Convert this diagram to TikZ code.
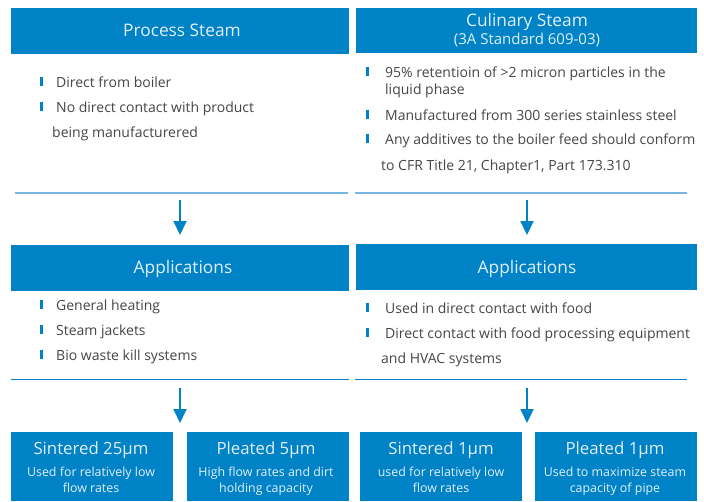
\documentclass[tikz,border=0pt]{standalone}
\usepackage{fontspec}
\setmainfont{Open Sans}
\usetikzlibrary{arrows.meta}
\definecolor{pblue}{RGB}{0,130,198}
\definecolor{lblue}{RGB}{120,182,226}
\definecolor{tgray}{RGB}{70,70,70}
\definecolor{wtext}{RGB}{225,240,250}
\begin{document}
\begin{tikzpicture}[x=1pt,y=-1pt,
  hdr/.style={fill=pblue,draw=none,inner sep=0},
  body/.style={anchor=base west,inner sep=0,text=tgray,font=\fontsize{14}{16}\selectfont},
  bul/.style={fill=pblue,minimum width=3pt,minimum height=9pt,inner sep=0,anchor=north},
  sep/.style={lblue,line width=1.4pt},
  sep2/.style={pblue,line width=0.9pt},
  arr/.style={pblue,line width=1.8pt,-{Triangle[length=14pt,width=13pt]}},
  htext/.style={text=wtext,inner sep=0,anchor=base,font=\fontsize{17.3}{20}\selectfont},
  btitle/.style={text=wtext,inner sep=0,anchor=base,font=\fontsize{16.8}{20}\selectfont},
  bdesc/.style={text=wtext,inner sep=0,anchor=base,font=\fontsize{12.4}{14}\selectfont}]
\useasboundingbox (0,0) rectangle (704,501);
\fill[white] (0,0) rectangle (704,501);
% top headers
\path[hdr] (11,8) rectangle (349,54);
\node[htext] (ps) at (182,36) {Process Steam};
\path[hdr] (356,8) rectangle (697,53);
\node[htext] (cs) at (527,26) {Culinary Steam};
\node[htext,font=\fontsize{15}{17}\selectfont] (cs2) at (527,44) {(3A Standard 609-03)};
% left top bullets
\node[bul] (b1) at (41,77) {};
\node[body] (t1) at (56,87) {Direct from boiler};
\node[bul] (b2) at (41,102) {};
\node[body] (t2) at (56,112) {No direct contact with product};
\node[body] (t3) at (52,137) {being manufacturered};
% right top bullets
\node[bul] (b3) at (367,67) {};
\node[body] (r1) at (385,77) {95\% retentioin of >2 micron particles in the};
\node[body] (r2) at (385,94) {liquid phase};
\node[bul] (b4) at (367,110) {};
\node[body] (r3) at (385,120) {Manufactured from 300 series stainless steel};
\node[bul] (b5) at (367,134) {};
\node[body] (r4) at (385,144) {Any additives to the boiler feed should conform};
\node[body] (r5) at (381,170) {to CFR Title 21, Chapter1, Part 173.310};
% separators
\coordinate (s1a) at (15,193); \coordinate (s1b) at (348,193);
\coordinate (s2a) at (355,193); \coordinate (s2b) at (687,193);
\draw[sep] (s1a) -- (s1b);
\draw[sep] (s2a) -- (s2b);
% arrows 1
\coordinate (a1s) at (180,200); \coordinate (a1e) at (180,235);
\coordinate (a2s) at (527,200); \coordinate (a2e) at (527,235);
\draw[arr] (a1s) -- (a1e);
\draw[arr] (a2s) -- (a2e);
% applications
\path[hdr] (11,245) rectangle (349,291);
\node[htext] (ap1) at (183,273) {Applications};
\path[hdr] (356,244) rectangle (697,290);
\node[htext] (ap2) at (527,273) {Applications};
\node[bul] (c1) at (41,300) {};
\node[body] (l1) at (56,310) {General heating};
\node[bul] (c2) at (41,325) {};
\node[body] (l2) at (56,335) {Steam jackets};
\node[bul] (c3) at (41,350) {};
\node[body] (l3) at (56,360) {Bio waste kill systems};
\node[bul] (c4) at (367,303) {};
\node[body] (m1) at (385,313) {Used in direct contact with food};
\node[bul] (c5) at (367,328) {};
\node[body] (m2) at (385,338) {Direct contact with food processing equipment};
\node[body] (m3) at (381,363) {and HVAC systems};
\coordinate (s3a) at (11,379); \coordinate (s3b) at (349,379);
\coordinate (s4a) at (355,379); \coordinate (s4b) at (687,379);
\draw[sep2] (s3a) -- (s3b);
\draw[sep2] (s4a) -- (s4b);
% arrows 2
\coordinate (a3s) at (180,388); \coordinate (a3e) at (180,423);
\coordinate (a4s) at (527,388); \coordinate (a4e) at (527,423);
\draw[arr] (a3s) -- (a3e);
\draw[arr] (a4s) -- (a4e);
% bottom boxes
\path[hdr] (11,432) rectangle (173,501);
\path[hdr] (187,432) rectangle (349,501);
\path[hdr] (360,432) rectangle (522,501);
\path[hdr] (535,432) rectangle (697,501);
\node[btitle] (f1) at (91,454) {Sintered 25μm};
\node[bdesc] (f1a) at (91,476) {Used for relatively low};
\node[bdesc] (f1b) at (91,492) {flow rates};
\node[btitle] (f2) at (266,454) {Pleated 5μm};
\node[bdesc] (f2a) at (266,476) {High flow rates and dirt};
\node[bdesc] (f2b) at (266,492) {holding capacity};
\node[btitle] (f3) at (441,454) {Sintered 1μm};
\node[bdesc] (f3a) at (441,476) {used for relatively low};
\node[bdesc] (f3b) at (441,492) {flow rates};
\node[btitle] (f4) at (615,454) {Pleated 1μm};
\node[bdesc] (f4a) at (615,476) {Used to maximize steam};
\node[bdesc] (f4b) at (615,492) {capacity of pipe};
\end{tikzpicture}
\end{document}
